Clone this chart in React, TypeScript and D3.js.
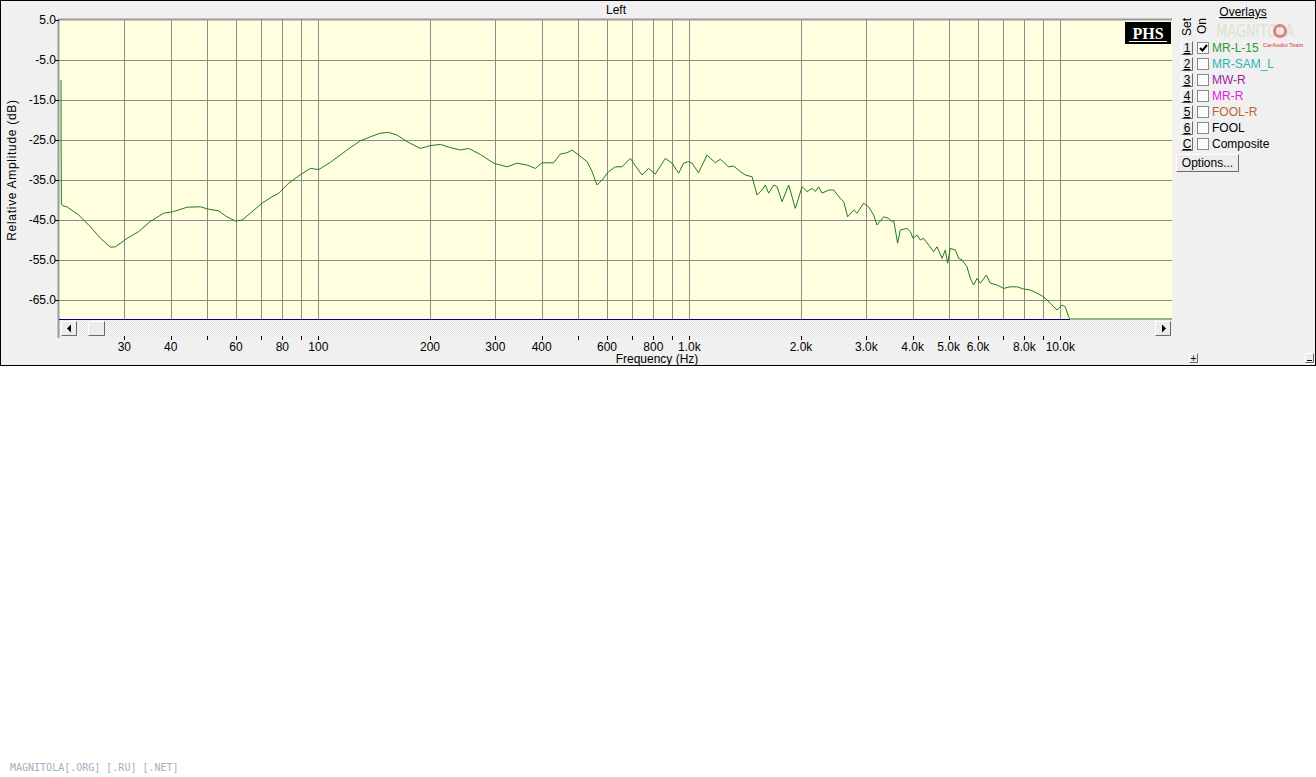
import React from "react";
import * as d3 from "d3";

// ---- data ----
const freqHz: number[] = [
  20.25, 20.26, 20.3, 20.45, 21.0, 22.6, 24.3, 25.9, 27.5, 28.4, 30.5, 32.8, 35.2, 38.3, 40.7, 44.3, 48.1,
  50.6, 53.8, 56.7, 59.8, 62.3, 65.6, 70.5, 75.0, 78.2, 83.2, 89.4, 95.2, 100.2, 107.7, 119.5, 129.8,
  138.1, 146.9, 154.7, 163.0, 173.4, 188.4, 200.4, 213.2, 226.9, 241.4, 254.2, 273.4, 296.9, 322.6,
  343.3, 365.2, 384.5, 400.9, 430.8, 449.1, 468.2, 482.9, 503.0, 530.1, 546.8, 564.0, 581.8, 606.2,
  631.8, 658.7, 693.4, 707.8, 745.6, 776.8, 809.8, 861.7, 898.2, 935.8, 965.2, 995.6, 1017, 1059,
  1116, 1175, 1212, 1276, 1317, 1373, 1416, 1476, 1522, 1570, 1603, 1636, 1688, 1724, 1778, 1853,
  1931, 2013, 2077, 2142, 2186, 2232, 2279, 2375, 2449, 2553, 2606, 2671, 2773, 2831, 2950, 3043,
  3139, 3206, 3340, 3445, 3519, 3554, 3643, 3705, 3862, 3942, 4009, 4109, 4194, 4281, 4416, 4555,
  4653, 4799, 4898, 4969, 5053, 5212, 5320, 5433, 5605, 5721, 5840, 5965, 6088, 6318, 6477, 6752,
  7035, 7333, 7644, 7964, 8302, 8655, 9016, 9398, 9797, 10106, 10316, 10530, 10640, 20000,
];
const levelDb: number[] = [
  -10, -25, -41.2, -41.4, -41.7, -43.75, -46.7, -49.6, -51.8, -51.7, -49.6, -47.9, -45.4, -43.3, -42.9, -41.8, -41.7,
  -42.3, -42.7, -44.2, -45.25, -45, -43.3, -40.8, -39.2, -38.3, -35.8, -33.7, -32.1, -32.4, -30.6, -27.5, -25.2,
  -24.2, -23.3, -23.1, -23.75, -25.4, -27.1, -26.4, -26.1, -26.9, -27.5, -27.1, -28.6, -30.8, -31.7,
  -30.8, -31.25, -32.1, -30.7, -30.7, -28.5, -28.2, -27.5, -28.75, -30.4, -32.9, -36.25, -35, -32.9,
  -31.7, -31.7, -29.6, -30.8, -33.75, -32.1, -33.5, -29.6, -30.8, -33.3, -30.8, -30.4, -30.8, -33.2,
  -28.75, -30.7, -29.8, -31.7, -31.5, -32.9, -33.75, -34.2, -38.75, -37.5, -36.25, -38.3, -36.25, -36.7, -40.4, -36.25,
  -42.1, -36.7, -37.9, -37.1, -37.9, -36.7, -38.3, -37.5, -37.5, -39.6, -40.4, -44.2, -42.5, -43.3, -40.8, -41.7,
  -43.75, -46.25, -44.2, -44.6, -45.4, -45, -50.8, -47.5, -47.1, -47.9, -49.6, -48.75, -50, -49.6, -51.25, -52.9,
  -51.7, -54.6, -52.5, -55.8, -52.1, -52.5, -54.6, -55, -56.7, -59.6, -61.25, -59.6, -60.8, -58.75, -60.8, -61.25,
  -62.1, -61.7, -61.7, -62.25, -62.5, -63.3, -64.2, -65.8, -67.5, -66.25, -66.7, -69.2, -70, -70,
];
const yTicks: number[] = [5, -5, -15, -25, -35, -45, -55, -65];
const xGrid: number[] = [30, 40, 50, 60, 70, 80, 90, 100, 200, 300, 400, 500, 600, 700, 800, 900, 1000, 2000, 3000, 4000, 5000, 6000, 7000, 8000, 9000, 10000];
const xLabelTicks: number[] = [30, 40, 60, 80, 100, 200, 300, 400, 600, 800, 1000, 2000, 3000, 4000, 5000, 6000, 8000, 10000];
const overlayNames: string[] = ["MR-L-15", "MR-SAM_L", "MW-R", "MR-R", "FOOL-R", "FOOL", "Composite"];
const overlaySets: string[] = ["1", "2", "3", "4", "5", "6", "C"];
const overlayColors: string[] = ["#2e9a2e", "#2eb4b4", "#a020a0", "#e020e0", "#b8652e", "#000000", "#000000"];
const overlayOn: boolean[] = [true, false, false, false, false, false, false];

const FONT = "'Liberation Sans', Arial, sans-serif";

function fmtFreq(f: number): string {
  return f >= 1000 ? (f / 1000).toFixed(1) + "k" : String(f);
}

function Button3D({ x, y, w, h }: { x: number; y: number; w: number; h: number }) {
  return (
    <g>
      <rect x={x} y={y} width={w} height={h} fill="#ececec" />
      <path d={`M${x + 0.5},${y + h - 0.5}V${y + 0.5}H${x + w - 0.5}`} stroke="#ffffff" fill="none" />
      <path d={`M${x + 0.5},${y + h - 0.5}H${x + w - 0.5}V${y + 0.5}`} stroke="#6a6a6a" fill="none" />
    </g>
  );
}

export default function App() {
  const left = 59, right = 1172, top = 20, bottom = 320;
  const x = d3.scaleLog().domain([20, 20000]).range([left, right]);
  const y = d3.scaleLinear().domain([-70, 5]).range([bottom, top]);
  const pts: [number, number][] = freqHz.map((f, i) => [f, levelDb[i]]);
  const line = d3
    .line<[number, number]>()
    .x((d) => x(d[0]))
    .y((d) => Math.min(y(d[1]), bottom - 1))
    .curve(d3.curveLinear);

  return (
    <svg
      width={1316}
      height={777}
      style={{ position: "absolute", left: 0, top: 0, background: "#ffffff" }}
      fontFamily={FONT}
    >
      <defs>
        <clipPath id="plotclip">
          <rect x={left} y={top} width={right - left} height={bottom - top} />
        </clipPath>
        <pattern id="dither" width="2" height="2" patternUnits="userSpaceOnUse">
          <rect width="2" height="2" fill="#f6f6f6" />
          <rect width="1" height="1" fill="#e4e4e4" />
          <rect x="1" y="1" width="1" height="1" fill="#e4e4e4" />
        </pattern>
      </defs>

      {/* frame */}
      <rect x={0.5} y={0.5} width={1315} height={365} fill="#f0f0f0" stroke="#000" />

      {/* title */}
      <text x={616} y={14} fontSize={12} textAnchor="middle" fill="#000">Left</text>

      {/* plot background */}
      <rect x={left} y={top} width={right - left} height={bottom - top} fill="#ffffe0" />

      {/* grid */}
      <g stroke="#8c8c8c" strokeWidth={1}>
        {yTicks.slice(1).map((t) => (
          <line key={"gy" + t} x1={left} x2={right} y1={Math.round(y(t)) + 0.5} y2={Math.round(y(t)) + 0.5} />
        ))}
        {xGrid.map((f) => (
          <line key={"gx" + f} x1={Math.round(x(f)) + 0.5} x2={Math.round(x(f)) + 0.5} y1={top} y2={bottom} />
        ))}
      </g>
      {/* plot border left / top */}
      <line x1={left - 0.5} x2={left - 0.5} y1={top - 1} y2={bottom + 18} stroke="#9a9a9a" strokeWidth={2} />
      <line x1={left - 1} x2={right} y1={top - 0.5} y2={top - 0.5} stroke="#9a9a9a" strokeWidth={2} />

      {/* y tick labels */}
      {yTicks.map((t) => (
        <g key={"yt" + t}>
          <line x1={left - 4} x2={left} y1={Math.round(y(t)) + 0.5} y2={Math.round(y(t)) + 0.5} stroke="#000" />
          <text x={56} y={y(t) + 4} fontSize={12} textAnchor="end" fill="#000">
            {t.toFixed(1)}
          </text>
        </g>
      ))}
      <text
        transform={`translate(16,170) rotate(-90)`}
        fontSize={12}
        letterSpacing={0.7}
        textAnchor="middle"
        fill="#000"
      >
        Relative Amplitude (dB)
      </text>

      {/* curve */}
      <g clipPath="url(#plotclip)">
        <path d={line(pts) || ""} fill="none" stroke="#1f7a1f" strokeWidth={1} />
      </g>
      {/* bottom border */}
      <line x1={left} x2={1070} y1={bottom - 0.5} y2={bottom - 0.5} stroke="#000080" strokeWidth={1} />

      {/* scrollbar */}
      <rect x={left + 1} y={bottom} width={right - left - 1} height={17} fill="url(#dither)" />
      <Button3D x={61} y={321} w={16} h={15} />
      <path d="M71,324.5 L67,328.5 L71,332.5 Z" fill="#000" />
      <Button3D x={88} y={321} w={17} h={15} />
      <Button3D x={1155} y={321} w={16} h={15} />
      <path d="M1162,324.5 L1166,328.5 L1162,332.5 Z" fill="#000" />

      {/* x ticks */}
      {xGrid.map((f) => (
        <line key={"xt" + f} x1={Math.round(x(f)) + 0.5} x2={Math.round(x(f)) + 0.5} y1={336} y2={340} stroke="#000" />
      ))}
      {xLabelTicks.map((f) => (
        <text key={"xl" + f} x={x(f)} y={351} fontSize={12} textAnchor="middle" fill="#000">
          {fmtFreq(f)}
        </text>
      ))}
      <text x={657} y={363} fontSize={12} textAnchor="middle" fill="#000">Frequency (Hz)</text>

      {/* PHS badge */}
      <rect x={1125} y={22} width={46} height={22} fill="#000" />
      <text x={1148} y={39} fontSize={16} fontWeight="bold" textAnchor="middle" fill="#fff" fontFamily="'Liberation Serif', 'DejaVu Serif', serif">
        PHS
      </text>
      <line x1={1129} x2={1167} y1={41.5} y2={41.5} stroke="#fff" />

      {/* legend */}
      <text x={1243} y={16} fontSize={12} textAnchor="middle" fill="#000" textDecoration="underline">Overlays</text>
      {/* watermark logo */}
      <text x={1255} y={37} fontSize={18} textAnchor="middle" fill="#d5e3cc" opacity={0.85} fontFamily="'DejaVu Sans Condensed', 'Liberation Sans Narrow', sans-serif" transform="translate(1255,0) scale(0.8,1) translate(-1255,0)">
        MAGNITOLA
      </text>
      <circle cx={1280} cy={31} r={5.5} fill="none" stroke="#e08080" strokeWidth={3} />
      <text x={1263} y={47} fontSize={5.5} fill="#d86a6a" fontWeight="bold">CarAudio Team</text>

      <text transform="translate(1191,36) rotate(-90)" fontSize={12} fill="#000">Set</text>
      <text transform="translate(1206,34) rotate(-90)" fontSize={12} fill="#000">On</text>

      {overlayNames.map((name, i) => {
        const cy = 48 + i * 16;
        return (
          <g key={name}>
            <Button3D x={1181} y={cy - 7} w={12} h={14} />
            <text x={1187} y={cy + 4} fontSize={12} textAnchor="middle" fill="#000" textDecoration="underline">
              {overlaySets[i]}
            </text>
            <rect x={1197.5} y={cy - 5.5} width={11} height={11} fill="#fff" stroke="#8a8a8a" />
            {overlayOn[i] && (
              <path d={`M1200,${cy} L1202.5,${cy + 2.5} L1207,${cy - 3}`} stroke="#000" strokeWidth={2} fill="none" />
            )}
            <text x={1212} y={cy + 4} fontSize={12} fill={overlayColors[i]}>
              {name}
            </text>
          </g>
        );
      })}
      <Button3D x={1176} y={154} w={63} h={18} />
      <text x={1207.5} y={167} fontSize={12} textAnchor="middle" fill="#000">Options...</text>

      {/* small +/- */}
      <Button3D x={1189} y={353} w={9} h={10} />
      <text x={1193.5} y={362} fontSize={10} textAnchor="middle" fill="#000">+</text>
      <Button3D x={1305} y={353} w={9} h={10} />
      <line x1={1307} x2={1312} y1={360.5} y2={360.5} stroke="#000" />

      {/* site watermark */}
      <text x={10} y={771} fontSize={10} fill="#9fb0c0" fontFamily="'DejaVu Sans Mono', monospace">
        MAGNITOLA[.ORG] [.RU] [.NET]
      </text>
    </svg>
  );
}
